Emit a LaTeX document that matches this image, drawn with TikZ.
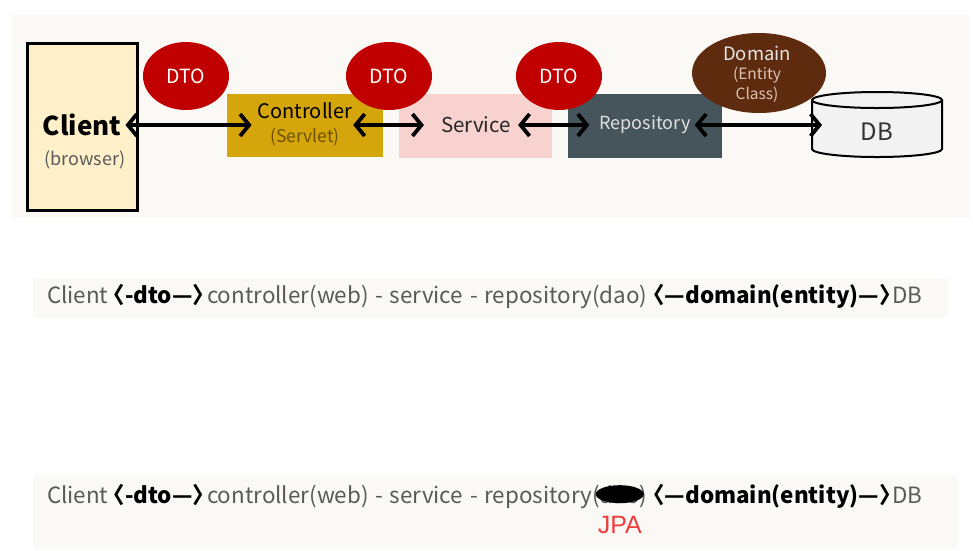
\documentclass[tikz,border=0pt]{standalone}
\usepackage{fontspec}
\setmainfont{Noto Sans CJK KR}
\newfontfamily\jpafont{Liberation Sans}
\usetikzlibrary{arrows.meta,shapes.geometric}
\definecolor{panelbg}{HTML}{FBF9F5}
\definecolor{clientfill}{HTML}{FFF0C9}
\definecolor{ctrlfill}{HTML}{D5A50C}
\definecolor{ctrlsub}{HTML}{6E5200}
\definecolor{svcfill}{HTML}{F8D2CE}
\definecolor{repofill}{HTML}{46555B}
\definecolor{dtored}{HTML}{C00000}
\definecolor{domainbrown}{HTML}{5E2B0F}
\definecolor{domainsub}{HTML}{DCC2B0}
\definecolor{dbfill}{HTML}{F2F2F2}
\definecolor{txtgray}{HTML}{5A5A5A}
\definecolor{jpared}{HTML}{F03C3C}
\tikzset{
  fs/.style={font=\fontsize{#1}{#1}\selectfont},
  layerbox/.style={draw=none, minimum width=#1, minimum height=63pt, inner sep=0pt, align=center},
  dto/.style={ellipse, fill=dtored, minimum width=86pt, minimum height=68pt, inner sep=0pt, text=white, fs=19.5},
  dblarrow/.style={{Straight Barb[length=9pt,width=22pt]}-{Straight Barb[length=9pt,width=22pt]}, line width=3.8pt, line cap=round},
  seq/.style={inner sep=0pt, outer sep=0pt, text=txtgray, fs=22.4},
}
\newcommand{\bk}[1]{\textcolor{black}{\textbf{#1}}}
\newcommand{\lbr}{\hspace{-0.25em}〈}
\newcommand{\rbr}{〉\hspace{-0.36em}}
\newcommand{\tlbr}{\hspace{-0.22em}〈}
\newcommand{\trbr}{〉\hspace{-0.42em}}
\newcommand{\ws}{\hspace{0.3em}}
\begin{document}
\begin{tikzpicture}[x=1pt,y=-1pt]
\useasboundingbox[fill=white] (0,0) rectangle (973,550);
% top panel
\fill[panelbg] (12,15) rectangle (970,218);
% client
\node[draw=black, line width=2.5pt, fill=clientfill, minimum width=110pt, minimum height=167pt, inner sep=0pt] (client) at (82.5,127) {};
\node[font=\fontsize{26}{26}\selectfont\bfseries, inner sep=0pt] (clienttxt) at (82,125) {Client};
\node[fs=18, text=txtgray, inner sep=0pt] (browser) at (85,160) {(browser)};
% controller
\node[layerbox=156pt, fill=ctrlfill] (ctrl) at (305,125) {};
\node[fs=20, inner sep=0pt] (ctrltxt) at (305,111) {Controller};
\node[fs=17.5, text=ctrlsub, inner sep=0pt] (ctrlsub) at (305,137) {(Servlet)};
% service
\node[layerbox=153pt, minimum height=64pt, fill=svcfill] (svc) at (475.5,126) {};
\node[fs=20.5, text=black!85, inner sep=0pt] (svctxt) at (476,125) {Service};
% repository
\node[layerbox=154pt, minimum height=64pt, fill=repofill] (repo) at (645,126) {};
\node[fs=18, text=white!88!black, inner sep=0pt] (repotxt) at (645,125) {Repository};
% DB cylinder
\fill[dbfill] (812,100) -- (812,149) arc[start angle=180, end angle=0, x radius=65, y radius=8] -- (942,100) arc[start angle=0, end angle=-180, x radius=65, y radius=8] -- cycle;
\draw[line width=2pt, fill=dbfill] (877,100) ellipse[x radius=65, y radius=8];
\draw[line width=2pt] (812,100) -- (812,149) arc[start angle=180, end angle=0, x radius=65, y radius=8] -- (942,100);
\node[fs=24, text=black!80, inner sep=0pt] (dbtxt) at (877,132) {DB};
\coordinate (db) at (822,125);
% DTO ellipses
\node[dto] (dto1) at (186,76) {DTO};
\node[dto] (dto2) at (389,76) {DTO};
\node[dto] (dto3) at (559,76) {DTO};
% domain
\node[ellipse, fill=domainbrown, minimum width=134pt, minimum height=80pt, inner sep=0pt] (domain) at (759,73) {};
\node[fs=18.5, text=white!90!black, inner sep=0pt] (domaintxt) at (757,53) {Domain};
\node[fs=15.5, text=domainsub, inner sep=0pt] (entitytxt) at (757,75) {(Entity};
\node[fs=15.5, text=domainsub, inner sep=0pt] (classtxt) at (757,95) {Class)};
% arrows
\draw[dblarrow] ([xshift=4pt]clienttxt.east) -- ([xshift=-6pt]ctrltxt.west |- ctrl.center);
\draw[dblarrow] ([xshift=-30pt]ctrl.east) -- ([xshift=-17pt]svctxt.west);
\draw[dblarrow] ([xshift=7pt]svctxt.east) -- ([xshift=-10pt]repotxt.west);
\draw[dblarrow] ([xshift=4pt]repotxt.east) -- (db);
% line 2
\fill[panelbg] (33,278) rectangle (948,318);
\node[seq, anchor=west] (line2) at (47,297) {Client\bk{\lbr-dto—\rbr}controller(web)\ws-\ws service\ws-\ws repository(dao)\bk{\tlbr—domain(entity)—\trbr}DB};
% line 3
\fill[panelbg] (33,476) rectangle (958,548);
\node[seq, anchor=west] (l3a) at (47,497) {Client\bk{\lbr-dto—\rbr}controller(web)\ws-\ws service\ws-\ws repository(};
\node[seq, anchor=base west] (l3dao) at (l3a.base east) {dao};
\node[seq, anchor=base west] (l3b) at (l3dao.base east) {)\bk{\tlbr—domain(entity)—\trbr}DB};
\fill[black] ([yshift=1pt]l3dao.center) ellipse[x radius=24, y radius=9];
\node[text=jpared, font=\jpafont\fontsize{25}{25}\selectfont, inner sep=0pt] (jpa) at ([yshift=-30pt]l3dao.center) {JPA};
\end{tikzpicture}
\end{document}
